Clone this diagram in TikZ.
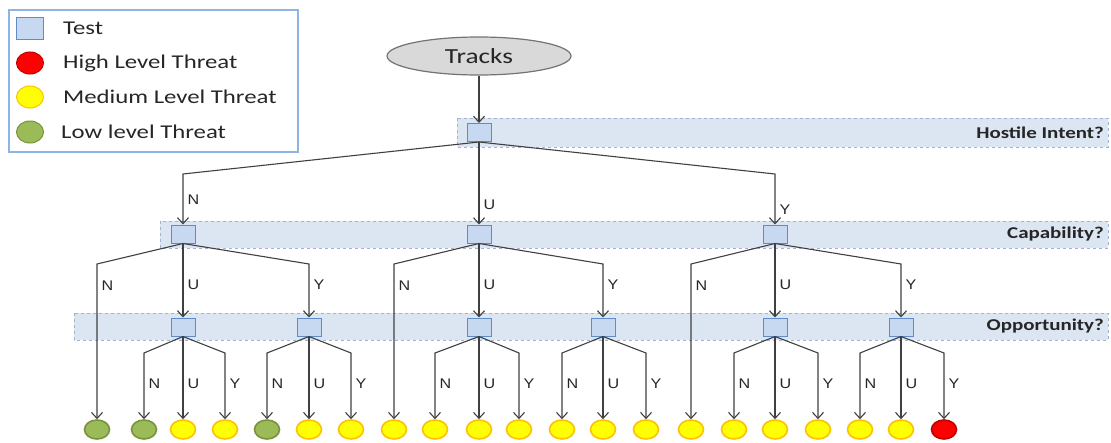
\documentclass[tikz,border=0pt]{standalone}
\usepackage{fontspec}
\setmainfont{Carlito}[FakeStretch=1.27]
\newfontfamily\branchfont{Liberation Sans}[FakeStretch=1.15]
\usepackage{tikz}
\usetikzlibrary{arrows.meta, positioning, shapes.geometric}
\definecolor{testfill}{RGB}{198,217,241}
\definecolor{testdraw}{RGB}{95,140,200}
\definecolor{bandfill}{RGB}{220,230,242}
\definecolor{banddraw}{RGB}{160,180,210}
\definecolor{highfill}{RGB}{255,0,0}
\definecolor{highdraw}{RGB}{192,0,0}
\definecolor{medfill}{RGB}{255,255,0}
\definecolor{meddraw}{RGB}{255,192,0}
\definecolor{lowfill}{RGB}{155,187,89}
\definecolor{lowdraw}{RGB}{119,147,60}
\definecolor{linecol}{RGB}{64,64,64}
\definecolor{keydraw}{RGB}{142,180,227}

\begin{document}
\begin{tikzpicture}
    [x=1pt, y=-1pt,
     test/.style={rectangle, draw=testdraw, fill=testfill, line width=1pt, minimum width=24pt, minimum height=18pt, inner sep=0pt},
     threat/.style={ellipse, line width=1.6pt, minimum width=25pt, minimum height=19pt, inner sep=0pt},
     high/.style={threat, draw=highdraw, fill=highfill},
     med/.style={threat, draw=meddraw, fill=medfill},
     low/.style={threat, draw=lowdraw, fill=lowfill},
     band/.style={draw=banddraw, fill=bandfill, dashed, line width=0.6pt},
     bandtext/.style={anchor=east, inner sep=0pt, font=\fontsize{16.5}{20}\selectfont\bfseries, text=black!85},
     branch/.style={draw=linecol, line width=1.1pt, -{Straight Barb[length=6pt, width=11pt]}},
     lbl/.style={right, inner sep=4pt, font=\branchfont\fontsize{14}{16}\selectfont, text=black!85},
     keytext/.style={anchor=west, inner sep=0pt, font=\fontsize{19.5}{23}\selectfont, text=black!85}]

    \useasboundingbox (0,0) rectangle (1111,442);

    % legend
    \draw[draw=keydraw, line width=1.2pt] (9,10) rectangle (298,152);
    \node[test, minimum width=27pt, minimum height=22pt] (keyTest) at (30,28) {};
    \node[high, line width=1pt, minimum width=27pt, minimum height=22pt] (keyHigh) at (30,63) {};
    \node[med, line width=1pt, minimum width=27pt, minimum height=22pt] (keyMed) at (30,97) {};
    \node[low, line width=1pt, minimum width=27pt, minimum height=22pt] (keyLow) at (30,132) {};
    \node[keytext] (keyTestTxt) at (63,28) {Test};
    \node[keytext] (keyHighTxt) at (63,63) {High Level Threat};
    \node[keytext] (keyMedTxt) at (63,97) {Medium Level Threat};
    \node[keytext] (keyLowTxt) at (61,132) {Low level Threat};

    % bands
    \draw[band] (457,118) rectangle (1108,147);
    \draw[band] (160,221) rectangle (1108,248);
    \draw[band] (74,313) rectangle (1108,340);
    \node[bandtext] (intentTxt) at (1104,132.5) {Hostile Intent?};
    \node[bandtext] (capTxt) at (1104,234.5) {Capability?};
    \node[bandtext] (oppTxt) at (1104,326.5) {Opportunity?};

    \coordinate (bend1) at (0,174);
    \coordinate (bend2) at (0,264);
    \coordinate (bend3) at (0,353);

    \node[ellipse, draw=black!55, fill=black!15, line width=1.2pt, minimum width=184pt, minimum height=38pt,
          inner sep=0pt, font=\fontsize{21.5}{25}\selectfont, text=black!85] (tracks) at (479,56) {Tracks};

    \node[test] (hi) at (479,132.5) {};
    \node[test] (capN) at (183,234) {};
    \node[test] (capU) at (479,234) {};
    \node[test] (capY) at (775,234) {};
    \foreach \x/\name in {183/oppNU, 309/oppNY, 479/oppUU, 603/oppUY, 775/oppYU, 901/oppYY}
        \node[test] (\name) at (\x,327) {};

    % leaves
    \foreach \x/\kind/\name in {97/low/lf1, 144/low/lf2, 183/med/lf3, 225/med/lf4,
                                267/low/lf5, 309/med/lf6, 351/med/lf7, 394/med/lf8,
                                435/med/lf9, 479/med/lf10, 519/med/lf11, 562/med/lf12,
                                603/med/lf13, 646/med/lf14, 691/med/lf15, 734/med/lf16,
                                775/med/lf17, 818/med/lf18, 860/med/lf19, 901/med/lf20,
                                944/high/lf21}
        \node[\kind] (\name) at (\x,429.5) {};

    \draw[branch] (tracks) -- (hi);
    \draw[branch] (hi.south) -- (capN |- bend1) -- node[lbl, pos=0.5] {N} (capN);
    \draw[branch] (hi.south) -- (capU |- bend1) -- node[lbl, pos=0.6] {U} (capU);
    \draw[branch] (hi.south) -- (capY |- bend1) -- node[lbl, pos=0.7] {Y} (capY);

    \foreach \cp/\lfn/\optu/\opty in {capN/lf1/oppNU/oppNY, capU/lf8/oppUU/oppUY, capY/lf15/oppYU/oppYY} {
        \draw[branch] (\cp.south) -- (\lfn |- bend2) -- node[lbl, pos=0.14] {N} (\lfn);
        \draw[branch] (\cp.south) -- (\optu |- bend2) -- node[lbl, pos=0.39] {U} (\optu);
        \draw[branch] (\cp.south) -- (\opty |- bend2) -- node[lbl, pos=0.39] {Y} (\opty);
    }

    \foreach \opt/\lfa/\lfb/\lfc in {oppNU/lf2/lf3/lf4, oppNY/lf5/lf6/lf7, oppUU/lf9/lf10/lf11,
                                     oppUY/lf12/lf13/lf14, oppYU/lf16/lf17/lf18, oppYY/lf19/lf20/lf21} {
        \draw[branch] (\opt.south) -- (\lfa |- bend3) -- node[lbl, pos=0.47] {N} (\lfa);
        \draw[branch] (\opt.south) -- (\lfb |- bend3) -- node[lbl, pos=0.47] {U} (\lfb);
        \draw[branch] (\opt.south) -- (\lfc |- bend3) -- node[lbl, pos=0.47] {Y} (\lfc);
    }
\end{tikzpicture}
\end{document}
